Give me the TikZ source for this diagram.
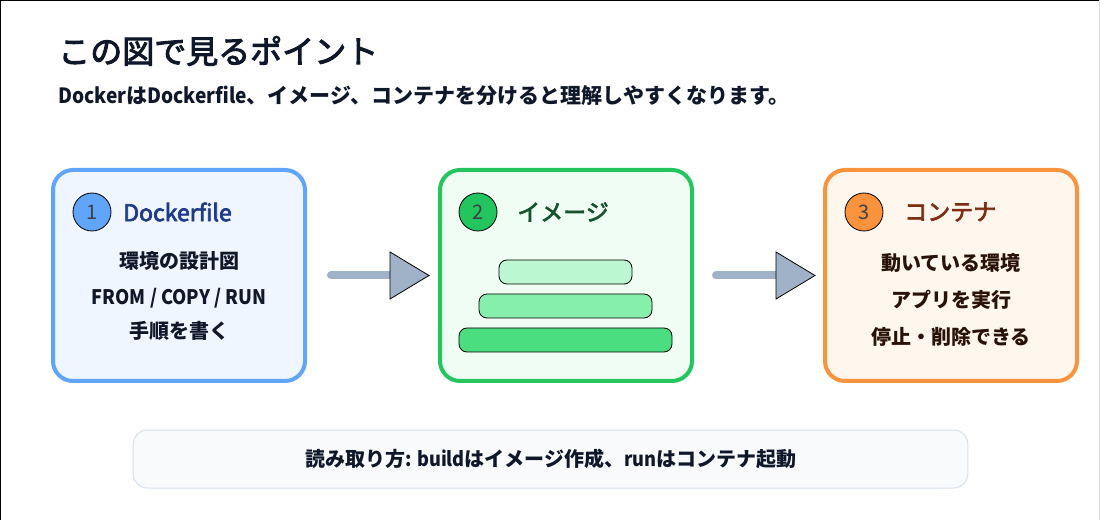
\documentclass[tikz,border=0pt]{standalone}
\usepackage{fontspec}
\setmainfont{Noto Sans CJK JP}
\newfontfamily\medfont[FakeBold=3]{Noto Sans CJK JP}
\newfontfamily\latnb[FakeStretch=0.91]{Noto Sans CJK JP}
\newcommand{\lt}[1]{{\latnb\bfseries #1}}
\usetikzlibrary{calc}
\definecolor{ink}{HTML}{0F172A}
\definecolor{bluebd}{HTML}{60A5FA}
\definecolor{bluebg}{HTML}{EFF6FF}
\definecolor{bluetx}{HTML}{1E3A8A}
\definecolor{greenbd}{HTML}{22C55E}
\definecolor{greenbg}{HTML}{F0FDF4}
\definecolor{greentx}{HTML}{14532D}
\definecolor{orangebd}{HTML}{FB923C}
\definecolor{orangebg}{HTML}{FFF7ED}
\definecolor{orangetx}{HTML}{7C2D12}
\definecolor{browntx}{HTML}{2A1208}
\definecolor{arrowc}{HTML}{A0B2C8}
\definecolor{barA}{HTML}{BBF7D0}
\definecolor{barB}{HTML}{86EFAC}
\definecolor{barC}{HTML}{4ADE80}
\definecolor{notebg}{HTML}{F8FAFC}
\definecolor{notebd}{HTML}{D6E0EC}
\definecolor{numtx}{HTML}{3F3F46}
\tikzset{
  card/.style={draw=#1, line width=3pt, rounded corners=15pt, minimum width=189pt, minimum height=158.25pt, inner sep=0pt},
  badge/.style={circle, draw=black, line width=0.6pt, fill=#1, minimum size=28.5pt, inner sep=0pt, text=numtx, font=\fontsize{15}{18}\selectfont},
  heading/.style={anchor=west, inner sep=0pt, font=\medfont\fontsize{17.25}{20}\selectfont},
  bodytxt/.style={inner sep=0pt, font=\bfseries\fontsize{15}{18}\selectfont},
  layer/.style={draw=black, line width=0.6pt, rounded corners=6pt, fill=#1, minimum height=18pt, inner sep=0pt},
  flowline/.style={draw=arrowc, line width=6pt, line cap=round},
  flowhead/.style={draw=black, line width=0.6pt, fill=arrowc, line join=miter},
}
\begin{document}
\begin{tikzpicture}[x=0.75pt,y=-0.75pt]
\useasboundingbox (0,0) rectangle (1100,520);
\fill[white] (0,0) rectangle (1100,520);
\draw[black, line width=0.9pt] (0.5,520) -- (0.5,0.5) -- (1100,0.5);
\draw[black!12, line width=0.9pt] (1099.3,0) -- (1099.3,520);

% title
\node[anchor=west, inner sep=0pt, text=ink, font=\medfont\fontsize{24}{28}\selectfont] (title) at (58,51) {この図で見るポイント};
\node[anchor=west, inner sep=0pt, text=ink, font=\bfseries\fontsize{15.75}{19}\selectfont] (subtitle) at (58,96) {\lt{Docker}は\lt{Dockerfile}、イメージ、コンテナを分けると理解しやすくなります。};

% cards
\node[card=bluebd, fill=bluebg] (c1) at (179,275.5) {};
\node[card=greenbd, fill=greenbg] (c2) at (566,275.5) {};
\node[card=orangebd, fill=orangebg] (c3) at (951,275.5) {};

% badges and headings
\node[badge=bluebd] (n1) at (92,212) {1};
\node[heading, text=bluetx] (h1) at (123,212) {Dockerfile};
\node[badge=greenbd] (n2) at (478,212) {2};
\node[heading, text=greentx] (h2) at (517,212) {イメージ};
\node[badge=orangebd] (n3) at (864,212) {3};
\node[heading, text=orangetx] (h3) at (904,212) {コンテナ};

% card 1 text
\node[bodytxt, text=ink] (t11) at (179,261) {環境の設計図};
\node[bodytxt, text=ink] (t12) at (179,298) {\lt{FROM / COPY / RUN}};
\node[bodytxt, text=ink] (t13) at (179,331) {手順を書く};

% card 2 layers
\node[layer=barA, minimum width=99.75pt] (l1) at (565.5,272) {};
\node[layer=barB, minimum width=129.75pt] (l2) at (565.5,306) {};
\node[layer=barC, minimum width=159.75pt] (l3) at (565.5,340) {};

% card 3 text
\node[bodytxt, text=browntx] (t31) at (951,263) {動いている環境};
\node[bodytxt, text=browntx] (t32) at (951,300) {アプリを実行};
\node[bodytxt, text=browntx] (t33) at (951,337) {停止・削除できる};

% arrows
\coordinate (a1s) at ($(c1.east)+(24,0)$);
\coordinate (a1b) at ($(c2.west)+(-48,0)$);
\coordinate (a1t) at ($(c2.west)+(-9,0)$);
\draw[flowline] (a1s) -- (a1b);
\draw[flowhead] ($(a1b)+(0,-23.5)$) -- (a1t) -- ($(a1b)+(0,23.5)$) -- cycle;
\coordinate (a2s) at ($(c2.east)+(22,0)$);
\coordinate (a2b) at ($(c3.west)+(-47,0)$);
\coordinate (a2t) at ($(c3.west)+(-8,0)$);
\draw[flowline] (a2s) -- (a2b);
\draw[flowhead] ($(a2b)+(0,-23.5)$) -- (a2t) -- ($(a2b)+(0,23.5)$) -- cycle;

% note
\node[draw=notebd, line width=0.75pt, fill=notebg, rounded corners=10.5pt, minimum width=626pt, minimum height=43.5pt, inner sep=0pt] (note) at (550.5,459) {};
\node[bodytxt, text=ink] (notet) at (551,459) {読み取り方\lt{: build}はイメージ作成、\lt{run}はコンテナ起動};
\end{tikzpicture}
\end{document}
